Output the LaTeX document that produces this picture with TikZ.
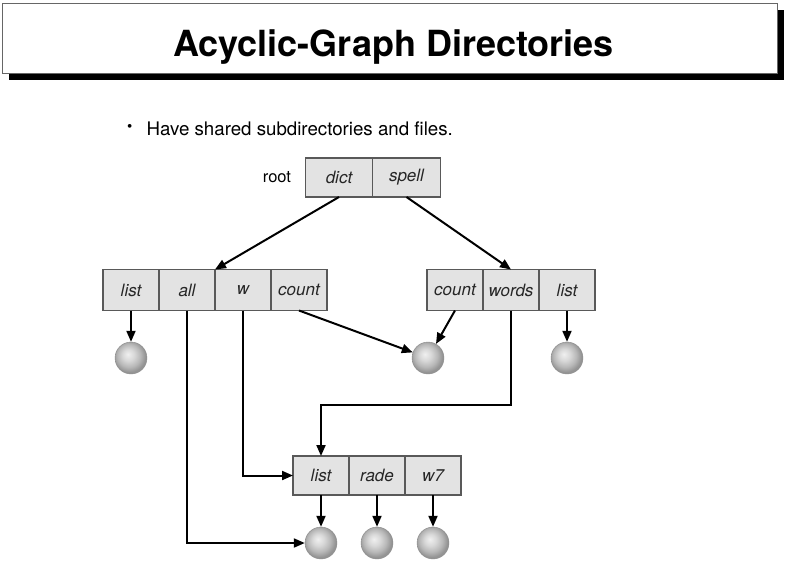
\documentclass[tikz,border=0pt]{standalone}
\usepackage{fontspec}
\setmainfont{TeX Gyre Heros}
\usetikzlibrary{arrows.meta,positioning,shadows}

\pgfdeclareradialshading{fileball}{\pgfpoint{-5bp}{6bp}}{%
  color(0bp)=(black!6);
  color(9bp)=(black!15);
  color(18bp)=(black!28);
  color(25bp)=(black!42);
  color(50bp)=(black!42)}

\begin{document}
\begin{tikzpicture}[
      x=1pt,y=-1pt,
      mycell/.style={
         rectangle,
         draw=black!65,
         fill=black!11,
         text=black!85,
         line width=1.3pt,
         inner sep=0pt,
         outer sep=0pt,
         minimum width=56pt,
         minimum height=41pt,
         font=\fontsize{17}{19}\selectfont\itshape},
      myroot/.style={mycell,minimum width=67.5pt,minimum height=39pt},
      myfile/.style={
         circle,
         draw=black!45,
         shading=fileball,
         inner sep=0pt,
         minimum size=32pt},
      mytext/.style={
         rectangle,
         inner sep=0pt,
         font=\fontsize{16.5}{18}\selectfont},
      myarrow/.style={-{Triangle[length=11pt,width=9pt]},line width=2pt},
      node distance=0pt
      ]
      \useasboundingbox (0,0) rectangle (788,587);
      % slide title
      \node[draw=black!60,fill=white,minimum width=775pt,minimum height=70pt,
            drop shadow={shadow xshift=7pt,shadow yshift=-7pt,fill=black,opacity=1}]
            (titlebox) at (389.5,38) {};
      \node[anchor=base,font=\fontsize{36}{40}\selectfont\bfseries] (title) at (393.5,56.5) {Acyclic-Graph Directories};
      \node[anchor=base west,font=\fontsize{18.7}{22}\selectfont] (point) at (143,135) {Have shared subdirectories and files.};
      \node[anchor=base east,font=\fontsize{15}{16}\selectfont] (bullet) at (136,131) {\textbullet};
      % directories
      \node[myroot] (dict) at (339,177.5) {dict};
      \node[myroot,right=of dict] (spell) {spell};
      \node[mytext,left=14pt of dict] (rootlbl) {root};
      \node[mycell] (list1) at (131,290) {list};
      \node[mycell,right=of list1] (all) {all};
      \node[mycell,right=of all] (w) {w};
      \node[mycell,right=of w] (count1) {count};
      \node[mycell] (count2) at (455,290) {count};
      \node[mycell,right=of count2] (words) {words};
      \node[mycell,right=of words] (list2) {list};
      \node[mycell,minimum height=39pt] (list3) at (321,475.5) {list};
      \node[mycell,minimum height=39pt,right=of list3] (rade) {rade};
      \node[mycell,minimum height=39pt,right=of rade] (w7) {w7};
      % files
      \node[myfile] (f1) at (131,358) {};
      \node[myfile] (f2) at (428,358) {};
      \node[myfile] (f3) at (567,358) {};
      \node[myfile] (f4) at (321,543) {};
      \node[myfile] (f5) at (377,543) {};
      \node[myfile] (f6) at (433,543) {};
      \coordinate (bend) at (511,405);
      \draw[myarrow] (dict.south) -- (w.north west);
      \draw[myarrow] (spell.south) -- (words.north);
    \foreach \i/\j in {list1/f1,count1/f2,count2/f2,list2/f3,list3/f4,rade/f5,w7/f6}
      \draw[myarrow] (\i.south) -- (\j);
      \draw[myarrow] (words.south) -- (bend) -| (list3.north);
      \draw[myarrow] (w.south) |- (list3.west);
      \draw[myarrow] (all.south) |- (f4.west);
\end{tikzpicture}
\end{document}
